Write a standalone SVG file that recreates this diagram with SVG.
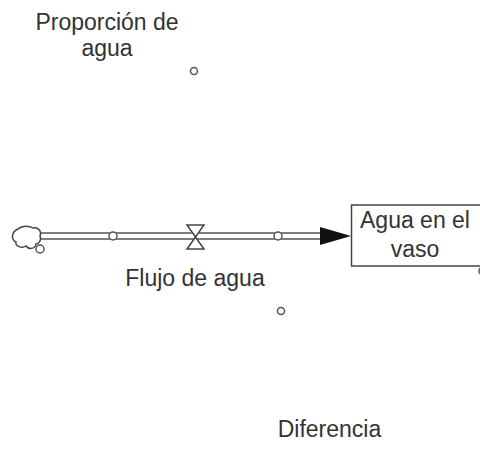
<svg xmlns="http://www.w3.org/2000/svg" width="480" height="458" viewBox="0 0 480 458">
<style>
.t{font-family:"Liberation Sans",Arial,sans-serif;font-size:23px;fill:#333;text-anchor:middle}
.c{fill:#fff;stroke:#555;stroke-width:1.5}
.s{fill:#fff;stroke:#444;stroke-width:1.5}
</style>
<rect width="480" height="458" fill="#fff"/>
<g id="connectors">
<path d="M40,236 H324" stroke="#555" stroke-width="7.5" fill="none"/>
<path d="M40,236 H324" stroke="#fff" stroke-width="4.5" fill="none"/>
<polygon points="320,227 351,236 320,245" fill="#111"/>
</g>
<g id="cloud">
<path class="s" d="M18,229 C22,225 30,226 33,228 C38,227 42,231 40,236 C42,241 38,244 36,244 C35,250 28,249 26,246 C22,249 15,246 16,242 C11,240 11,232 18,229 Z"/>
<circle class="c" cx="40" cy="249" r="4"/>
</g>
<g id="flow">
<circle class="c" cx="113" cy="236" r="4"/>
<polygon class="s" points="187,225 204,225 195.5,237"/>
<polygon class="s" points="195.5,237 187,249 204,249"/>
<circle class="c" cx="278" cy="236" r="4"/>
<text class="t" x="195" y="286">Flujo de agua</text>
</g>
<g id="stock">
<rect x="351.5" y="205" width="132" height="61" fill="#fff" stroke="#444" stroke-width="1.5"/>
<text class="t" x="415" y="228">Agua en el</text>
<text class="t" x="415" y="257">vaso</text>
<circle class="c" cx="483" cy="271" r="4"/>
</g>
<g id="proporcion">
<text class="t" x="107" y="30">Proporción de</text>
<text class="t" x="107" y="56">agua</text>
<circle class="c" cx="194" cy="71" r="3.5"/>
</g>
<g id="diferencia-aux">
<circle class="c" cx="281" cy="311" r="3.5"/>
</g>
<g id="diferencia">
<text class="t" x="329.5" y="437">Diferencia</text>
</g>
</svg>
